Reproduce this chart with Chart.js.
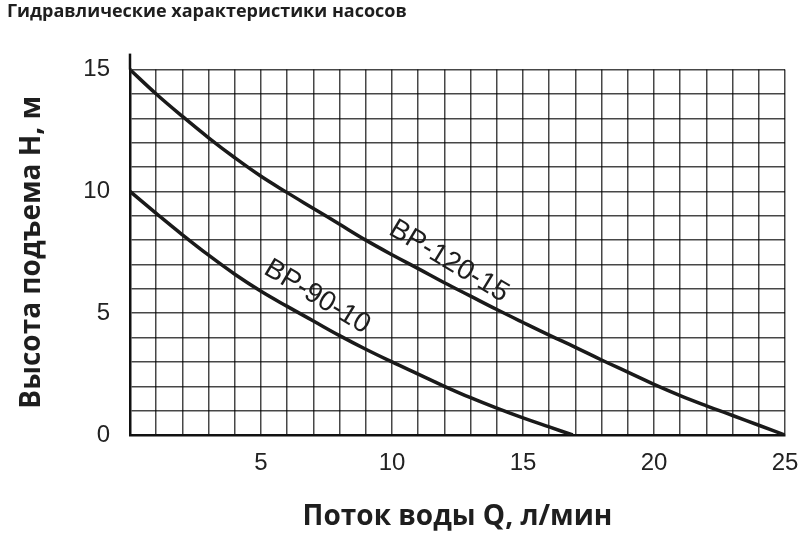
<!DOCTYPE html>
<html>
<head>
<meta charset="utf-8">
<script src="https://cdn.jsdelivr.net/npm/chart.js@4.4.1/dist/chart.umd.min.js"></script>
<style>
  html, body { margin: 0; padding: 0; background: #fff; }
  #wrap { width: 800px; height: 544px; }
</style>
</head>
<body>
<div id="wrap"><canvas id="pumpChart" width="800" height="544"></canvas></div>
<script>
// Pump curves data
const flowBP120 = [0, 1, 2, 3, 4, 5, 6, 7, 8, 9, 10, 11, 12, 13, 14, 15, 16, 17, 18, 19, 20, 21, 22, 23, 24, 25];
const headBP120 = [15, 14.0, 13.08, 12.2, 11.38, 10.62, 9.95, 9.3, 8.65, 8.0, 7.4, 6.83, 6.25, 5.7, 5.15, 4.62, 4.1, 3.6, 3.08, 2.58, 2.08, 1.62, 1.2, 0.8, 0.4, 0];

const flowBP90 = [0, 1, 2, 3, 4, 5, 6, 7, 8, 9, 10, 11, 12, 13, 14, 15, 16, 16.9];
const headBP90 = [10, 9.1, 8.22, 7.38, 6.6, 5.9, 5.28, 4.68, 4.08, 3.52, 3.0, 2.5, 2.0, 1.53, 1.1, 0.7, 0.33, 0];

const seriesNames = ['BP-120-15', 'BP-90-10'];

const xTicks = [5, 10, 15, 20, 25];
const yTicks = [0, 5, 10, 15];

function toPoints(xs, ys) {
  return xs.map(function (x, i) { return { x: x, y: ys[i] }; });
}

// labels written along the curves
const curveLabels = {
  id: 'curveLabels',
  afterDatasetsDraw(chart) {
    const ctx = chart.ctx;
    const xs = chart.scales.x;
    const ys = chart.scales.y;
    const items = [
      { text: seriesNames[0], q: 12.17, h: 7.13 },
      { text: seriesNames[1], q: 7.14, h: 5.67 }
    ];
    ctx.save();
    ctx.fillStyle = '#1e1e1e';
    ctx.font = '28px "Liberation Sans", Arial, sans-serif';
    ctx.textAlign = 'center';
    ctx.textBaseline = 'middle';
    items.forEach(function (it) {
      ctx.save();
      ctx.translate(xs.getPixelForValue(it.q), ys.getPixelForValue(it.h));
      ctx.rotate(31 * Math.PI / 180);
      ctx.fillText(it.text, 0, 0);
      ctx.restore();
    });
    ctx.restore();
  }
};

// y axis line goes a bit above 15
const axisTop = {
  id: 'axisTop',
  afterDraw(chart) {
    const ctx = chart.ctx;
    const a = chart.chartArea;
    ctx.save();
    ctx.strokeStyle = '#111';
    ctx.lineWidth = 2.5;
    ctx.beginPath();
    ctx.moveTo(a.left, a.top - 16);
    ctx.lineTo(a.left, a.top);
    ctx.stroke();
    ctx.restore();
  }
};

const ctx = document.getElementById('pumpChart').getContext('2d');
const pumpChart = new Chart(ctx, {
  type: 'line',
  data: {
    datasets: [
      {
        label: seriesNames[0],
        data: toPoints(flowBP120, headBP120),
        borderColor: '#1a1a1a',
        borderWidth: 3.5,
        pointRadius: 0,
        fill: false,
        tension: 0.4
      },
      {
        label: seriesNames[1],
        data: toPoints(flowBP90, headBP90),
        borderColor: '#1a1a1a',
        borderWidth: 3.5,
        pointRadius: 0,
        fill: false,
        tension: 0.4
      }
    ]
  },
  options: {
    responsive: false,
    animation: false,
    layout: {
      padding: { left: 7, right: 5, top: 0, bottom: 0 }
    },
    plugins: {
      legend: { display: false },
      tooltip: { enabled: false },
      title: {
        display: true,
        text: 'Гидравлические характеристики насосов',
        align: 'start',
        color: '#1e1e1e',
        font: { family: '"Open Sans", sans-serif', size: 18, weight: 'bold', lineHeight: 1.2 },
        padding: { top: 1, bottom: 47 }
      }
    },
    scales: {
      x: {
        type: 'linear',
        min: 0,
        max: 25,
        afterFit: function (scale) {
          scale.height = 109;
          scale.paddingRight = 15;
        },
        grid: {
          color: 'rgba(0,0,0,0.72)',
          lineWidth: 1.5,
          drawTicks: false
        },
        border: { display: true, color: '#111', width: 2.5 },
        ticks: {
          stepSize: 1,
          autoSkip: false,
          maxRotation: 0,
          padding: 14,
          color: '#222',
          font: { family: '"Liberation Sans", Arial, sans-serif', size: 24 },
          callback: function (v) { return xTicks.includes(v) ? String(v) : ''; }
        },
        title: {
          display: true,
          text: 'Поток воды Q, л/мин',
          color: '#1e1e1e',
          font: { family: '"Open Sans", sans-serif', size: 28, weight: 'bold', lineHeight: 1.2 },
          padding: { top: 0, bottom: 10 }
        }
      },
      y: {
        min: 0,
        max: 15,
        afterFit: function (scale) { scale.width = 123; },
        grid: {
          color: 'rgba(0,0,0,0.72)',
          lineWidth: 1.5,
          drawTicks: false
        },
        border: { display: true, color: '#111', width: 2.5 },
        ticks: {
          stepSize: 1,
          autoSkip: false,
          padding: 20,
          color: '#222',
          font: { family: '"Liberation Sans", Arial, sans-serif', size: 24 },
          callback: function (v) { return yTicks.includes(v) ? String(v) : ''; }
        },
        title: {
          display: true,
          text: 'Высота подъема Н, м',
          color: '#1e1e1e',
          font: { family: '"Open Sans", sans-serif', size: 28, weight: 'bold', lineHeight: 1.2 },
          padding: { top: 8, bottom: 0 }
        }
      }
    }
  },
  plugins: [curveLabels, axisTop]
});
</script>
</body>
</html>
